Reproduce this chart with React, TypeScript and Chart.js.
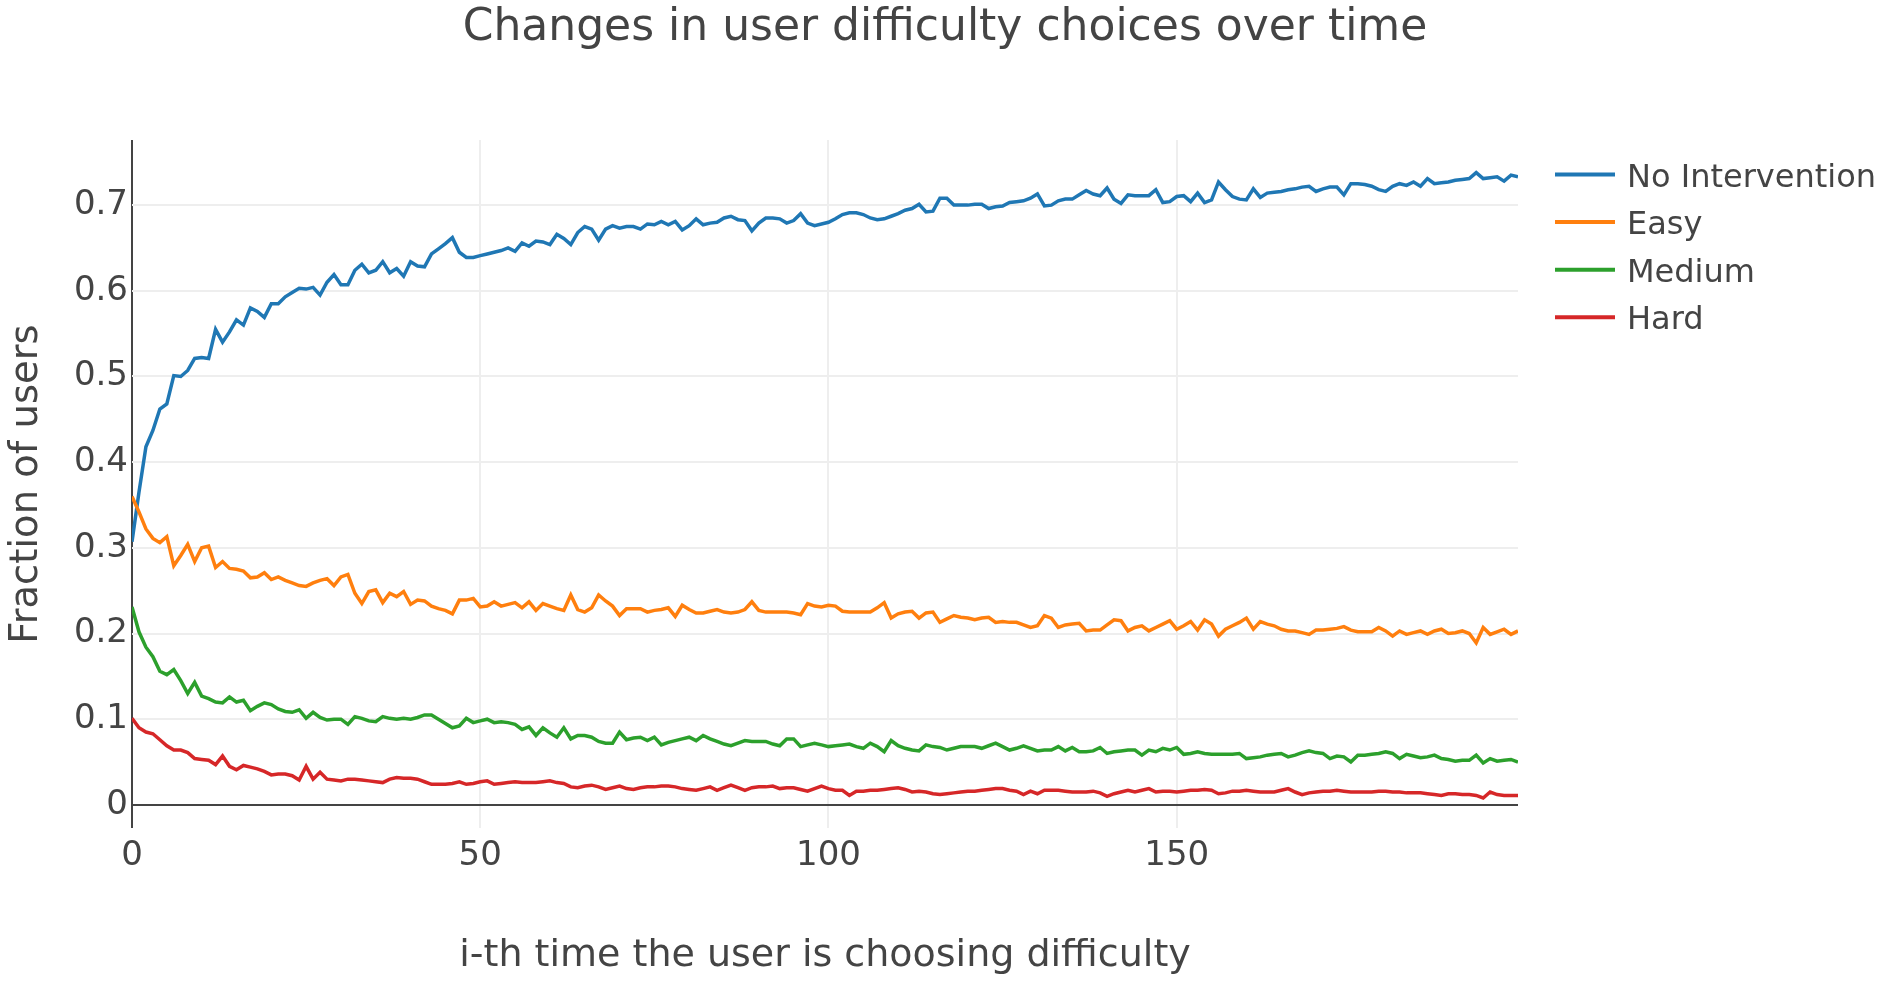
import React, { useEffect, useRef } from "react";
import { Chart, registerables } from "chart.js";

Chart.register(...registerables);

const chartTitle = "Changes in user difficulty choices over time";
const xAxisTitle = "i-th time the user is choosing difficulty";
const yAxisTitle = "Fraction of users";

const seriesNames = ["No Intervention", "Easy", "Medium", "Hard"];
const seriesColors = ["#1f77b4", "#ff7f0e", "#2ca02c", "#d62728"];

const xTicks = [0, 50, 100, 150];
const yTicks = [0, 0.1, 0.2, 0.3, 0.4, 0.5, 0.6, 0.7];

// i-th time index (0..199)
const steps: number[] = Array.from({ length: 200 }, (_, i) => i);

const noIntervention = [
  0.307, 0.365, 0.418, 0.437, 0.462, 0.468, 0.501, 0.500, 0.507, 0.521,
  0.522, 0.521, 0.555, 0.540, 0.552, 0.566, 0.560, 0.580, 0.576, 0.569,
  0.585, 0.585, 0.593, 0.598, 0.603, 0.602, 0.604, 0.595, 0.610, 0.619,
  0.607, 0.607, 0.624, 0.631, 0.621, 0.624, 0.634, 0.621, 0.626, 0.617,
  0.634, 0.629, 0.628, 0.643, 0.649, 0.655, 0.662, 0.645, 0.639, 0.639,
  0.641, 0.643, 0.645, 0.647, 0.650, 0.646, 0.656, 0.652, 0.658, 0.657,
  0.654, 0.666, 0.661, 0.654, 0.668, 0.675, 0.672, 0.659, 0.672, 0.676,
  0.673, 0.675, 0.675, 0.672, 0.678, 0.677, 0.681, 0.677, 0.681, 0.671,
  0.676, 0.684, 0.677, 0.679, 0.680, 0.685, 0.687, 0.683, 0.682, 0.670,
  0.679, 0.685, 0.685, 0.684, 0.679, 0.682, 0.690, 0.679, 0.676, 0.678,
  0.680, 0.684, 0.689, 0.691, 0.691, 0.689, 0.685, 0.683, 0.684, 0.687,
  0.690, 0.694, 0.696, 0.701, 0.692, 0.693, 0.708, 0.708, 0.700, 0.700,
  0.700, 0.701, 0.701, 0.696, 0.698, 0.699, 0.703, 0.704, 0.705, 0.708,
  0.713, 0.699, 0.700, 0.705, 0.707, 0.707, 0.712, 0.717, 0.713, 0.711,
  0.720, 0.707, 0.702, 0.712, 0.711, 0.711, 0.711, 0.718, 0.703, 0.704,
  0.710, 0.711, 0.704, 0.714, 0.703, 0.706, 0.727, 0.718, 0.710, 0.707,
  0.706, 0.719, 0.709, 0.714, 0.715, 0.716, 0.718, 0.719, 0.721, 0.722,
  0.716, 0.719, 0.721, 0.721, 0.712, 0.725, 0.725, 0.724, 0.722, 0.718,
  0.716, 0.722, 0.725, 0.723, 0.727, 0.722, 0.731, 0.725, 0.726, 0.727,
  0.729, 0.730, 0.731, 0.738, 0.731, 0.732, 0.733, 0.728, 0.735, 0.733,
];

const easy = [
  0.360, 0.342, 0.322, 0.311, 0.306, 0.313, 0.279, 0.291, 0.304, 0.284,
  0.300, 0.302, 0.277, 0.284, 0.276, 0.275, 0.273, 0.265, 0.266, 0.271,
  0.263, 0.266, 0.262, 0.259, 0.256, 0.255, 0.259, 0.262, 0.264, 0.256,
  0.266, 0.269, 0.247, 0.235, 0.249, 0.251, 0.236, 0.247, 0.243, 0.249,
  0.234, 0.239, 0.238, 0.232, 0.229, 0.227, 0.223, 0.239, 0.239, 0.241,
  0.231, 0.232, 0.237, 0.232, 0.234, 0.236, 0.230, 0.237, 0.227, 0.235,
  0.232, 0.229, 0.227, 0.245, 0.228, 0.225, 0.230, 0.245, 0.238, 0.232,
  0.221, 0.229, 0.229, 0.229, 0.225, 0.227, 0.228, 0.230, 0.220, 0.233,
  0.228, 0.224, 0.224, 0.226, 0.228, 0.225, 0.224, 0.225, 0.228, 0.237,
  0.227, 0.225, 0.225, 0.225, 0.225, 0.224, 0.222, 0.235, 0.232, 0.231,
  0.233, 0.232, 0.226, 0.225, 0.225, 0.225, 0.225, 0.230, 0.236, 0.218,
  0.223, 0.225, 0.226, 0.218, 0.224, 0.225, 0.213, 0.217, 0.221, 0.219,
  0.218, 0.216, 0.218, 0.219, 0.213, 0.214, 0.213, 0.213, 0.210, 0.207,
  0.209, 0.221, 0.218, 0.207, 0.210, 0.211, 0.212, 0.203, 0.204, 0.204,
  0.210, 0.216, 0.215, 0.203, 0.207, 0.209, 0.203, 0.207, 0.211, 0.215,
  0.205, 0.209, 0.214, 0.204, 0.216, 0.211, 0.197, 0.205, 0.209, 0.213,
  0.218, 0.205, 0.214, 0.211, 0.209, 0.205, 0.203, 0.203, 0.201, 0.199,
  0.204, 0.204, 0.205, 0.206, 0.208, 0.204, 0.202, 0.202, 0.202, 0.207,
  0.203, 0.197, 0.203, 0.199, 0.201, 0.203, 0.199, 0.203, 0.205, 0.200,
  0.201, 0.203, 0.200, 0.189, 0.207, 0.199, 0.202, 0.205, 0.199, 0.203,
];

const medium = [
  0.231, 0.202, 0.184, 0.173, 0.156, 0.152, 0.158, 0.145, 0.130, 0.143,
  0.127, 0.124, 0.120, 0.119, 0.126, 0.120, 0.122, 0.110, 0.115, 0.119,
  0.117, 0.112, 0.109, 0.108, 0.111, 0.101, 0.108, 0.102, 0.099, 0.100,
  0.100, 0.094, 0.103, 0.101, 0.098, 0.097, 0.103, 0.101, 0.100, 0.101,
  0.100, 0.102, 0.105, 0.105, 0.100, 0.095, 0.090, 0.092, 0.101, 0.096,
  0.098, 0.100, 0.096, 0.097, 0.096, 0.094, 0.088, 0.091, 0.081, 0.090,
  0.084, 0.079, 0.090, 0.077, 0.081, 0.081, 0.079, 0.074, 0.072, 0.072,
  0.085, 0.076, 0.078, 0.079, 0.075, 0.079, 0.070, 0.073, 0.075, 0.077,
  0.079, 0.075, 0.081, 0.077, 0.074, 0.071, 0.069, 0.072, 0.075, 0.074,
  0.074, 0.074, 0.071, 0.069, 0.077, 0.077, 0.068, 0.070, 0.072, 0.070,
  0.068, 0.069, 0.070, 0.071, 0.068, 0.066, 0.072, 0.068, 0.062, 0.075,
  0.069, 0.066, 0.064, 0.063, 0.070, 0.068, 0.067, 0.064, 0.066, 0.068,
  0.068, 0.068, 0.066, 0.069, 0.072, 0.068, 0.064, 0.066, 0.069, 0.066,
  0.063, 0.064, 0.064, 0.068, 0.063, 0.067, 0.062, 0.062, 0.063, 0.067,
  0.060, 0.062, 0.063, 0.064, 0.064, 0.058, 0.064, 0.062, 0.066, 0.064,
  0.067, 0.059, 0.060, 0.062, 0.060, 0.059, 0.059, 0.059, 0.059, 0.060,
  0.054, 0.055, 0.056, 0.058, 0.059, 0.060, 0.056, 0.058, 0.061, 0.063,
  0.061, 0.060, 0.054, 0.057, 0.056, 0.050, 0.058, 0.058, 0.059, 0.060,
  0.062, 0.060, 0.054, 0.059, 0.057, 0.055, 0.056, 0.058, 0.054, 0.053,
  0.051, 0.052, 0.052, 0.058, 0.049, 0.054, 0.051, 0.052, 0.053, 0.050,
];

const hard = [
  0.101, 0.090, 0.085, 0.083, 0.076, 0.069, 0.064, 0.064, 0.061, 0.054,
  0.053, 0.052, 0.047, 0.057, 0.045, 0.041, 0.046, 0.044, 0.042, 0.039,
  0.035, 0.036, 0.036, 0.034, 0.029, 0.045, 0.030, 0.038, 0.030, 0.029,
  0.028, 0.030, 0.030, 0.029, 0.028, 0.027, 0.026, 0.030, 0.032, 0.031,
  0.031, 0.030, 0.027, 0.024, 0.024, 0.024, 0.025, 0.027, 0.024, 0.025,
  0.027, 0.028, 0.024, 0.025, 0.026, 0.027, 0.026, 0.026, 0.026, 0.027,
  0.028, 0.026, 0.025, 0.021, 0.020, 0.022, 0.023, 0.021, 0.018, 0.020,
  0.022, 0.019, 0.018, 0.020, 0.021, 0.021, 0.022, 0.022, 0.021, 0.019,
  0.018, 0.017, 0.019, 0.021, 0.017, 0.020, 0.023, 0.020, 0.017, 0.020,
  0.021, 0.021, 0.022, 0.019, 0.020, 0.020, 0.018, 0.016, 0.019, 0.022,
  0.019, 0.017, 0.017, 0.011, 0.016, 0.016, 0.017, 0.017, 0.018, 0.019,
  0.020, 0.018, 0.015, 0.016, 0.015, 0.013, 0.012, 0.013, 0.014, 0.015,
  0.016, 0.016, 0.017, 0.018, 0.019, 0.019, 0.017, 0.016, 0.012, 0.016,
  0.013, 0.017, 0.017, 0.017, 0.016, 0.015, 0.015, 0.015, 0.016, 0.014,
  0.010, 0.013, 0.015, 0.017, 0.015, 0.017, 0.019, 0.015, 0.016, 0.016,
  0.015, 0.016, 0.017, 0.017, 0.018, 0.017, 0.013, 0.014, 0.016, 0.016,
  0.017, 0.016, 0.015, 0.015, 0.015, 0.017, 0.019, 0.015, 0.012, 0.014,
  0.015, 0.016, 0.016, 0.017, 0.016, 0.015, 0.015, 0.015, 0.015, 0.016,
  0.016, 0.015, 0.015, 0.014, 0.014, 0.014, 0.013, 0.012, 0.011, 0.013,
  0.013, 0.012, 0.012, 0.011, 0.008, 0.015, 0.012, 0.011, 0.011, 0.011,
];

const seriesValues = [noIntervention, easy, medium, hard];

const FONT = "'DejaVu Sans', Verdana, sans-serif";
const TEXT = "#444";

const overlayPlugin = {
  id: "overlay",
  afterDraw(chart: any) {
    const ctx = chart.ctx as CanvasRenderingContext2D;
    ctx.save();
    ctx.fillStyle = TEXT;
    ctx.font = `44px ${FONT}`;
    ctx.textAlign = "center";
    ctx.textBaseline = "alphabetic";
    ctx.fillText(chartTitle, 945, 40);

    chart.data.datasets.forEach((ds: any, i: number) => {
      const y = 174.5 + i * 47.6;
      ctx.strokeStyle = ds.borderColor;
      ctx.lineWidth = 4;
      ctx.beginPath();
      ctx.moveTo(1555, y);
      ctx.lineTo(1615, y);
      ctx.stroke();
      ctx.fillStyle = TEXT;
      ctx.font = `32px ${FONT}`;
      ctx.textAlign = "left";
      ctx.textBaseline = "alphabetic";
      ctx.fillText(ds.label, 1627, y + 12);
    });
    ctx.restore();
  },
};

export default function App() {
  const canvasRef = useRef<HTMLCanvasElement | null>(null);

  useEffect(() => {
    document.body.style.margin = "0";
    document.body.style.background = "#fff";
    const canvas = canvasRef.current;
    if (!canvas) return;

    const chart = new Chart(canvas, {
      type: "line",
      data: {
        labels: steps,
        datasets: seriesNames.map((name, i) => ({
          label: name,
          data: seriesValues[i],
          borderColor: seriesColors[i],
          backgroundColor: seriesColors[i],
          borderWidth: 3.5,
          pointRadius: 0,
          pointHoverRadius: 0,
          tension: 0,
          fill: false,
          order: seriesNames.length - 1 - i,
        })),
      },
      options: {
        responsive: false,
        animation: false,
        events: [],
        layout: { padding: { left: 0, top: 140, right: 372, bottom: 0 } },
        plugins: {
          legend: { display: false },
          title: { display: false },
          tooltip: { enabled: false },
        },
        scales: {
          x: {
            type: "linear",
            min: 0,
            max: 199,
            afterFit: (scale: any) => {
              scale.height = 160;
            },
            afterBuildTicks: (scale: any) => {
              scale.ticks = xTicks.map((v) => ({ value: v }));
            },
            grid: {
              drawTicks: false,
              color: (c: any) => (c.tick && c.tick.value === 0 ? TEXT : "#eeeeee"),
              lineWidth: 2,
            },
            border: { display: false },
            ticks: {
              padding: 8,
              color: TEXT,
              font: { family: FONT, size: 34 },
              maxRotation: 0,
              callback: (v: any) => String(v),
            },
            title: {
              display: true,
              text: xAxisTitle,
              color: TEXT,
              font: { family: FONT, size: 38 },
              padding: { top: 0, bottom: 9 },
            },
          },
          y: {
            type: "linear",
            min: -0.027,
            max: 0.776,
            afterFit: (scale: any) => {
              scale.width = 132;
            },
            afterBuildTicks: (scale: any) => {
              scale.ticks = yTicks.map((v) => ({ value: v }));
            },
            grid: {
              drawTicks: false,
              color: (c: any) => (c.tick && c.tick.value === 0 ? TEXT : "#eeeeee"),
              lineWidth: 2,
            },
            border: { display: false },
            ticks: {
              padding: 4,
              color: TEXT,
              font: { family: FONT, size: 34 },
              callback: (v: any) => (v === 0 ? "0" : Number(v).toFixed(1)),
            },
            title: {
              display: true,
              text: yAxisTitle,
              color: TEXT,
              font: { family: FONT, size: 38.5 },
              padding: { top: 4, bottom: 0 },
            },
          },
        },
      },
      plugins: [overlayPlugin],
    });

    return () => {
      chart.destroy();
    };
  }, []);

  return (
    <div style={{ position: "fixed", left: 0, top: 0, width: 1890, height: 988, background: "#fff" }}>
      <canvas ref={canvasRef} width={1890} height={988} style={{ width: 1890, height: 988, display: "block" }} />
    </div>
  );
}
